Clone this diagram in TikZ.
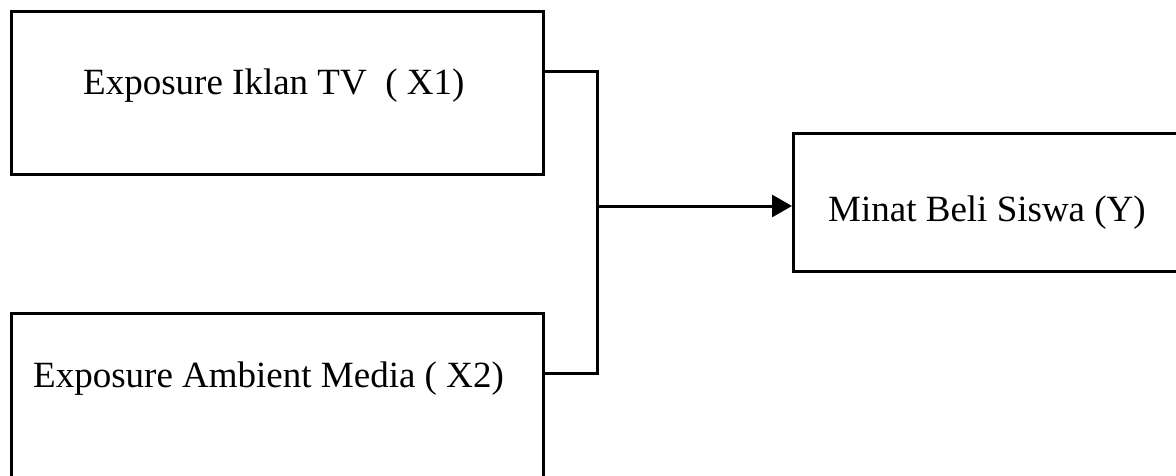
\documentclass[tikz,border=0pt]{standalone}
\usepackage{fontspec}
\setmainfont{Liberation Serif}
\usetikzlibrary{arrows.meta}
\begin{document}
\begin{tikzpicture}[x=1pt,y=-1pt,
  box/.style={draw, line width=3pt, rectangle, inner sep=0pt, anchor=north west},
  lbl/.style={anchor=base west, inner sep=0pt, font=\fontsize{37}{44}\selectfont},
  link/.style={line width=3pt},
  tip/.style={-{Triangle[length=20pt,width=22pt]}}]
\useasboundingbox (0,0) rectangle (1176,476);
\clip (0,0) rectangle (1176,476);
% input and output boxes
\node[box, minimum width=532, minimum height=163] (b1) at (10,10) {};
\node[box, minimum width=532, minimum height=170] (b2) at (10,312) {};
\node[box, minimum width=392, minimum height=138] (b3) at (792,132) {};
% box texts
\node[lbl] (t1) at (83,95) {Exposure Iklan TV\ \ ( X1)};
\node[lbl] (t2) at (33,387) {Exposure Ambient Media ( X2)};
\node[lbl] (t3) at (828,222) {Minat Beli Siswa (Y)};
% junction points of the bracket
\coordinate (j1) at (597,72);
\coordinate (j2) at (597,373);
\coordinate (jm) at (597,206);
\draw[link] (b1.east |- j1) -- (j1) -- (j2) -- (b2.east |- j2);
\draw[link, tip] (jm) -- (b3.west |- jm);
\end{tikzpicture}
\end{document}
